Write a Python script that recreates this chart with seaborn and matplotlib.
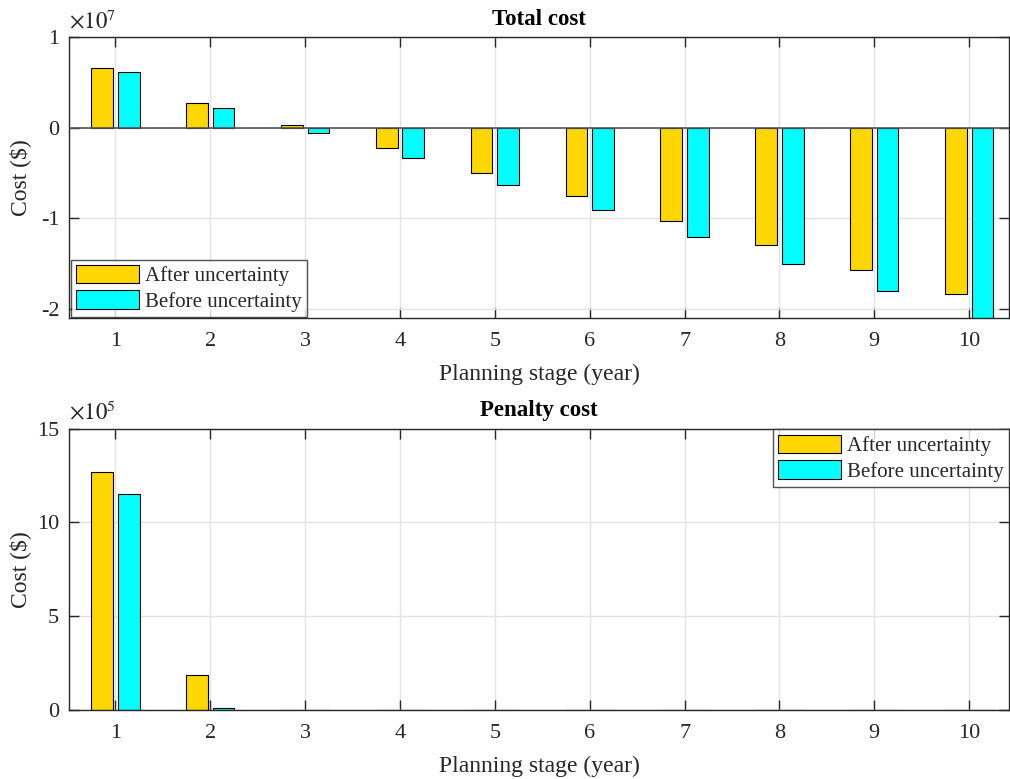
import numpy as np
import pandas as pd
import seaborn as sns
import matplotlib
matplotlib.use("Agg")
import matplotlib.pyplot as plt
from matplotlib.ticker import FuncFormatter, FixedLocator

# Planning stages and cost series
stages = [1, 2, 3, 4, 5, 6, 7, 8, 9, 10]
total_after = [0.660e7, 0.273e7, 0.030e7, -0.229e7, -0.500e7, -0.756e7,
               -1.028e7, -1.293e7, -1.569e7, -1.838e7]
total_before = [0.615e7, 0.218e7, -0.060e7, -0.335e7, -0.634e7, -0.917e7,
                -1.215e7, -1.506e7, -1.809e7, -2.150e7]
penalty_after = [12.7e5, 1.84e5, 0.0, 0.0, 0.0, 0.0, 0.0, 0.0, 0.0, 0.0]
penalty_before = [11.5e5, 0.10e5, 0.0, 0.0, 0.0, 0.0, 0.0, 0.0, 0.0, 0.0]
series_names = ["After uncertainty", "Before uncertainty"]
palette = {"After uncertainty": "#FFD700", "Before uncertainty": "#00FFFF"}

sns.set_theme(style="white")
plt.rcParams["font.family"] = ["Liberation Serif", "DejaVu Serif"]
plt.rcParams["mathtext.fontset"] = "stix"
plt.rcParams["axes.unicode_minus"] = False

AX_COLOR = "#262626"
TICK_SIZE = 16
LABEL_SIZE = 17
TITLE_SIZE = 16.5
LEGEND_SIZE = 15


def long_frame(after, before):
    return pd.DataFrame({
        "stage": [str(s) for s in stages] * 2,
        "cost": list(after) + list(before),
        "series": [series_names[0]] * len(stages) + [series_names[1]] * len(stages),
    })


def style_axes(ax, ylim, yticks, exponent, title, legend_loc, legend_anchor):
    ax.set_xlim(-0.49, 9.42)
    ax.set_ylim(*ylim)
    ax.yaxis.set_major_locator(FixedLocator(yticks))
    scale = 10.0 ** exponent
    ax.yaxis.set_major_formatter(FuncFormatter(lambda v, _: f"{v / scale:g}"))
    ax.text(0.0, 1.012, r"$\times10^{%d}$" % exponent, transform=ax.transAxes,
            ha="left", va="bottom", fontsize=TICK_SIZE + 0.5, color=AX_COLOR)
    ax.set_xticks(range(len(stages)))
    ax.set_xticklabels([str(s) for s in stages])
    ax.grid(True, color="#e3e3e3", linewidth=1.0)
    ax.set_axisbelow(True)
    for sp in ax.spines.values():
        sp.set_visible(True)
        sp.set_color(AX_COLOR)
        sp.set_linewidth(1.0)
    ax.tick_params(axis="both", direction="in", length=7.5, width=1.0,
                   color=AX_COLOR, labelcolor=AX_COLOR, labelsize=TICK_SIZE,
                   top=True, right=True, bottom=True, left=True)
    ax.tick_params(axis="x", pad=10)
    ax.tick_params(axis="y", pad=7)
    ax.set_title(title, fontweight="bold", fontsize=TITLE_SIZE, color="black", pad=9)
    ax.set_xlabel("Planning stage (year)", fontsize=LABEL_SIZE, color=AX_COLOR, labelpad=9)
    ax.set_ylabel("Cost ($)", fontsize=LABEL_SIZE, color=AX_COLOR)
    ax.yaxis.set_label_coords(-0.040, 0.5)
    leg = ax.legend(loc=legend_loc, bbox_to_anchor=legend_anchor, fontsize=LEGEND_SIZE,
                    frameon=True, fancybox=False, edgecolor=AX_COLOR,
                    handlelength=3.0, handleheight=1.0, borderpad=0.25,
                    labelspacing=0.2, handletextpad=0.3, borderaxespad=0.0)
    leg.get_frame().set_linewidth(1.0)
    for h in leg.legend_handles:
        h.set_edgecolor("black")
        h.set_linewidth(0.8)


fig, (ax1, ax2) = plt.subplots(2, 1, figsize=(10.1, 7.79), dpi=100)
fig.subplots_adjust(left=0.0683, right=0.999, top=0.9525, bottom=0.0886, hspace=0.391)

bar_kw = dict(x="stage", y="cost", hue="series", palette=palette,
              width=0.56, gap=0.18, edgecolor="black", linewidth=0.8,
              saturation=1.0, errorbar=None)

sns.barplot(data=long_frame(total_after, total_before), ax=ax1, **bar_kw)
ax1.axhline(0, color="#555555", linewidth=1.2, zorder=3)
style_axes(ax1, (-2.11e7, 1.0e7), [-2e7, -1e7, 0, 1e7], 7, "Total cost",
           "lower left", (0.002, 0.005))

sns.barplot(data=long_frame(penalty_after, penalty_before), ax=ax2, **bar_kw)
style_axes(ax2, (0, 15e5), [0, 5e5, 10e5, 15e5], 5, "Penalty cost",
           "upper right", (1.0, 0.997))

fig.savefig("out.png", dpi=100)
